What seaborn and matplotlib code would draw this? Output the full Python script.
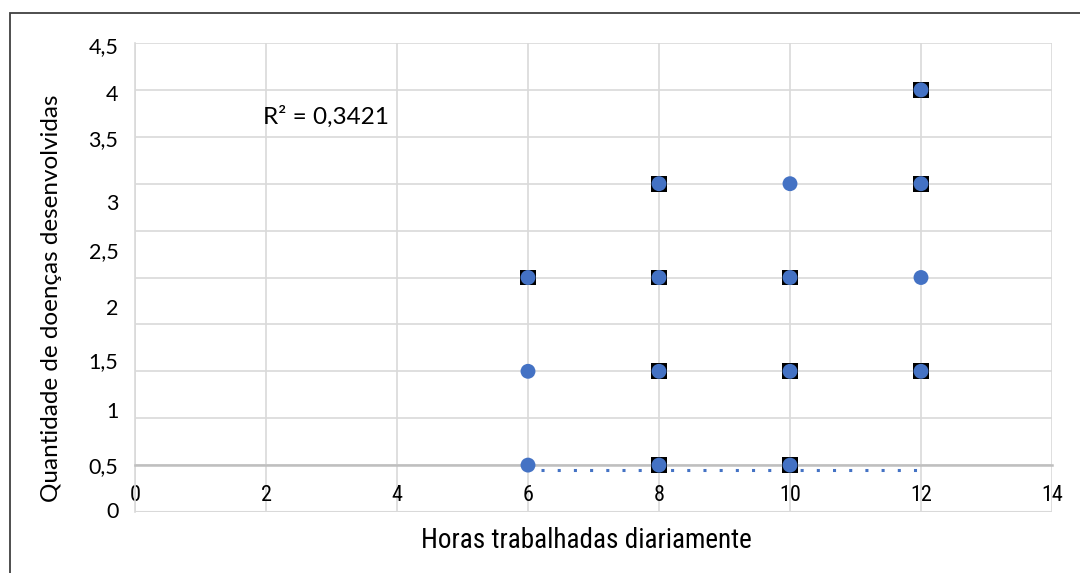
import matplotlib
matplotlib.use("Agg")
import matplotlib.pyplot as plt
import seaborn as sns
import pandas as pd
import numpy as np
from matplotlib.patches import Rectangle
from matplotlib import font_manager as fm

# ---- data ----
circle_x = [6, 6, 10, 12]
circle_y = [0.5, 1.5, 3.5, 2.5]
square_x = [6, 8, 8, 8, 8, 10, 10, 10, 12, 12, 12]
square_y = [2.5, 0.5, 1.5, 2.5, 3.5, 0.5, 1.5, 2.5, 1.5, 3.5, 4.5]
trend_x = [6.2, 12]
trend_y = [0.45, 0.45]
x_ticks = [0, 2, 4, 6, 8, 10, 12, 14]
y_tick_labels = ["0", "0,5", "1", "1,5", "2", "2,5", "3", "3,5", "4", "4,5"]
r2_text = "R² = 0,3421"
x_label = "Horas trabalhadas diariamente"
y_label = "Quantidade de doenças desenvolvidas"

# layout: where the y labels sit (the original chart draws them unevenly)
y_label_pos = [0.02, 0.50, 1.09, 1.62, 2.19, 2.79, 3.30, 3.99, 4.47, 4.98]

sns.set_theme(style="white")
plt.rcParams['font.family'] = ['Lato', 'DejaVu Sans']
plt.rcParams['text.color'] = 'black'
plt.rcParams['xtick.color'] = 'black'
plt.rcParams['ytick.color'] = 'black'

# condensed face for the x axis texts if available
names = {f.name for f in fm.fontManager.ttflist}
narrow = None
for cand in ["Liberation Sans Narrow", "DejaVu Sans Condensed", "Roboto Condensed", "Open Sans Condensed"]:
    if cand in names:
        narrow = cand
        break
cond_stretch = "normal"
if narrow is None:
    for f in fm.fontManager.ttflist:
        if f.name == "DejaVu Sans" and f.stretch in ("condensed", "semi-condensed"):
            narrow = "DejaVu Sans"
            cond_stretch = "condensed"
            break
if narrow is None:
    narrow = "Lato"
xfam = [narrow, 'DejaVu Sans']

BLUE = "#4472C4"
fig = plt.figure(figsize=(10.8, 5.73), dpi=100)
ax = fig.add_axes([135/1080, 1-512/573, (1052-135)/1080, (512-43)/573])

# spines first (moving a spine resets the tick objects)
for s in ["top", "right"]:
    ax.spines[s].set_visible(False)
ax.spines["left"].set_color("#d9d9d9")
ax.spines["left"].set_linewidth(1.2)
ax.spines["bottom"].set_position(("data", 0.5))
ax.spines["bottom"].set_color("#bfbfbf")
ax.spines["bottom"].set_linewidth(1.8)

sq = pd.DataFrame({"x": square_x, "y": square_y})
ci = pd.DataFrame({"x": circle_x, "y": circle_y})
allpts = pd.concat([sq, ci])

ax.plot(trend_x, trend_y, color=BLUE, lw=2.2, linestyle=(0, (1, 4.3)), zorder=2)
sns.scatterplot(data=sq, x="x", y="y", marker="s", s=130, color="black",
                edgecolor="none", ax=ax, zorder=3)
sns.scatterplot(data=allpts, x="x", y="y", marker="o", s=115, color=BLUE,
                edgecolor="none", ax=ax, zorder=4)

ax.set_xlim(0, 14)
ax.set_ylim(0, 5)
ax.tick_params(axis='y', which='both', length=0, pad=12)
ax.tick_params(axis='x', length=0, pad=14)
ax.yaxis.remove_overlapping_locs = False
ax.set_xticks(x_ticks)
ax.set_xticklabels([str(t) for t in x_ticks], family=xfam, fontstretch=cond_stretch,
                   fontsize=16, color="black")
ax.set_yticks(np.arange(0, 5.01, 0.5))
ax.set_yticklabels([])
ax.set_yticks(y_label_pos, minor=True)
ax.set_yticklabels(y_tick_labels, minor=True, fontsize=15.5, color="black")

ax.grid(True, which='major', color="#d9d9d9", lw=1.2)
ax.set_axisbelow(True)
ax.axhline(0, color="#d9d9d9", lw=1.5, zorder=0)

ax.set_xlabel("")
ax.set_ylabel("")
fig.text(586/1080, 1-541/573, x_label, ha="center", va="center", fontsize=19.5,
         family=xfam, fontstretch=cond_stretch, color="black")
fig.text(52/1080, 1-298/573, y_label, ha="center", va="center", rotation=90,
         fontsize=17.5, color="black")

ax.text(1.95, 4.21, r2_text, fontsize=17.5, ha="left", va="center", color="black")

fig.patches.append(Rectangle((10/1080, -0.1), 1.2, 1-13/573+0.1, transform=fig.transFigure,
                             fill=False, edgecolor="#404040", lw=1.3, figure=fig))

fig.savefig("out.png", dpi=100)
